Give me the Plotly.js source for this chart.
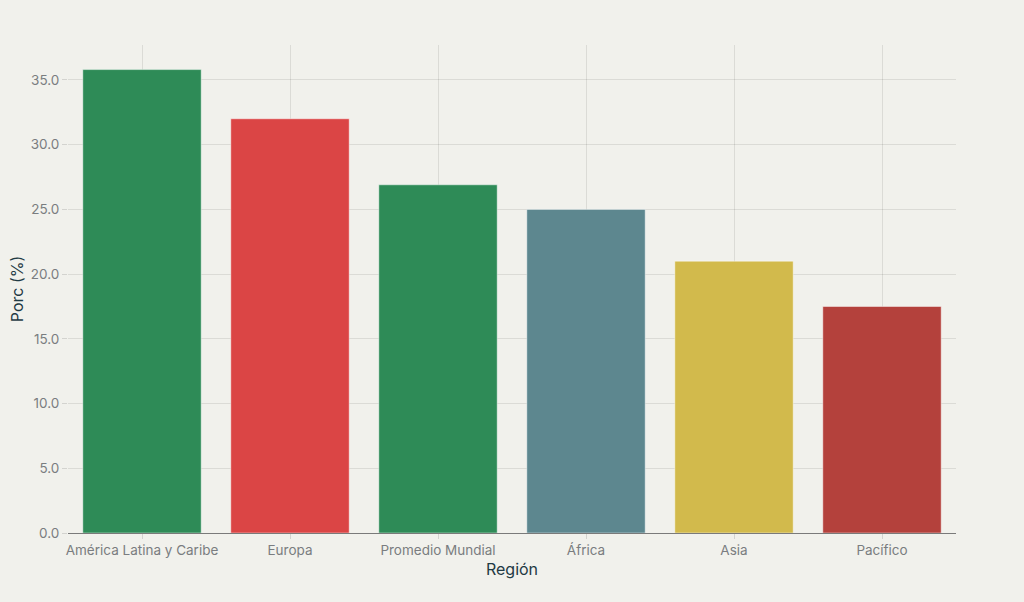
<!DOCTYPE html>
<html>
<head>
<meta charset="utf-8">
<script src="https://cdn.plot.ly/plotly-3.0.1.min.js"></script>
<style>
  html, body { margin: 0; padding: 0; background: #f1f1ec; }
  #graph { width: 1024px; height: 602px; }
</style>
</head>
<body>
<div id="graph"></div>
<script>
// Porcentaje por región, barras ordenadas de mayor a menor.

const regions = ["América Latina y Caribe", "Europa", "Promedio Mundial", "África", "Asia", "Pacífico"];
const values = [35.8, 32.0, 26.9, 25.0, 21.0, 17.5];
const barColors = ["#2E8B57", "#DB4545", "#2E8B57", "#5D878F", "#D2BA4C", "#B4413C"];

const trace = {
  x: regions,
  y: values,
  type: "bar",
  marker: {
    color: barColors,
    line: { color: "rgba(255,255,255,0.45)", width: 1 },
  },
  hoverinfo: "x+y",
};

const layout = {
  width: 1024,
  height: 602,
  paper_bgcolor: "#f1f1ec",
  plot_bgcolor: "#f1f1ec",
  font: { family: "Inter, 'Noto Sans', sans-serif", size: 14, color: "#7a7d80" },
  bargap: 0.2,
  margin: { l: 68, r: 68, t: 45, b: 69 },
  showlegend: false,
  xaxis: {
    title: { text: "Región", font: { size: 16, color: "#1f3a44" }, standoff: 6 },
    showgrid: true,
    gridcolor: "rgba(0,0,0,0.09)",
    showline: true,
    linecolor: "#7a7a7a",
    linewidth: 1,
    ticks: "outside",
    ticklen: 5,
    tickcolor: "rgba(0,0,0,0.12)",
    tickfont: { size: 13.5, color: "#7a7d80" },
  },
  yaxis: {
    title: { text: "Porc (%)", font: { size: 16, color: "#1f3a44" }, standoff: 3 },
    range: [0, 37.7],
    dtick: 5,
    tickformat: ".1f",
    showgrid: true,
    gridcolor: "rgba(0,0,0,0.09)",
    zeroline: false,
    ticks: "outside",
    ticklen: 5,
    tickcolor: "rgba(0,0,0,0.12)",
    tickfont: { size: 13.5, color: "#7a7d80" },
  },
};

Plotly.newPlot("graph", [trace], layout, { displayModeBar: false });
</script>
</body>
</html>
